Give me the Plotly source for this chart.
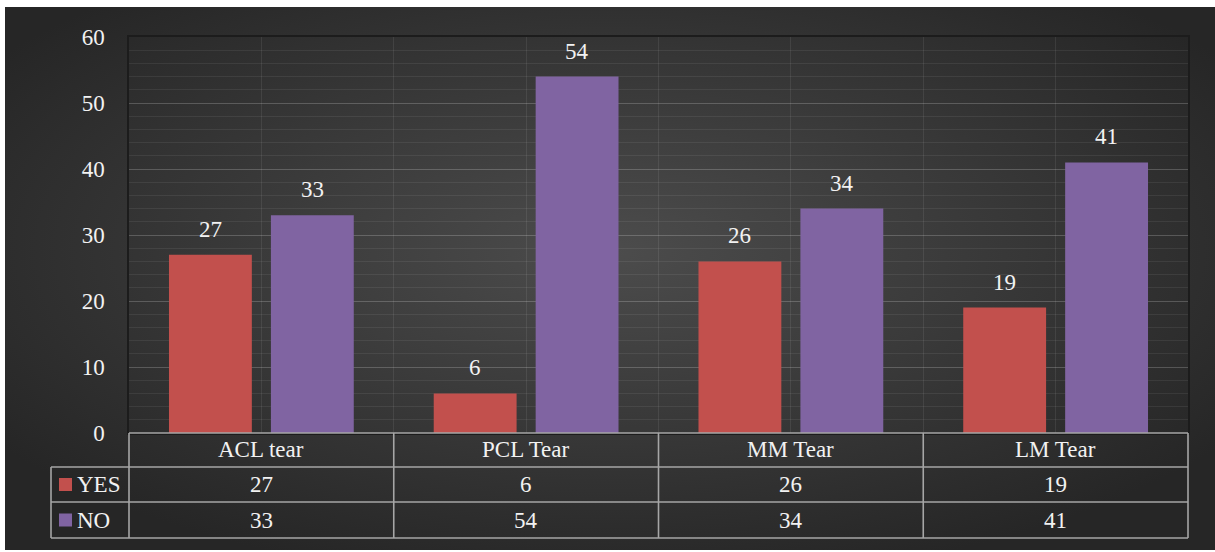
import base64
import plotly.graph_objects as go

categories = ["ACL tear", "PCL Tear", "MM Tear", "LM Tear"]
series_names = ["YES", "NO"]
yes_values = [27, 6, 26, 19]
no_values = [33, 54, 34, 41]
y_ticks = [0, 10, 20, 30, 40, 50, 60]

colors = {"YES": "#c2504d", "NO": "#8064a2"}
FONT = "Liberation Serif, Times New Roman, serif"
TXT = "#f2f2f2"
FS = 23

# figure geometry (pixels)
W, H = 1215, 552
L, R, T, B = 129, 1188, 37, 433
pw, ph = R - L, B - T

def px_x(x):
    return (x - L) / pw

def px_y(y):
    return (B - y) / ph

idx = list(range(len(categories)))
bar_w = 0.313
inner_gap = 0.036

fig = go.Figure()
for name, vals, off in [("YES", yes_values, -(bar_w + inner_gap)), ("NO", no_values, inner_gap)]:
    fig.add_trace(go.Bar(
        x=idx, y=vals, name=name, width=bar_w, offset=off,
        marker=dict(color=colors[name], line=dict(width=0)),
        showlegend=False,
    ))
    for i, v in zip(idx, vals):
        fig.add_annotation(x=i + off + bar_w / 2, y=v, xref="x", yref="y",
                           text=str(v), showarrow=False, xanchor="center", yanchor="bottom", yshift=11,
                           font=dict(family=FONT, size=FS, color=TXT))

# background radial gradient
svg = ('<svg xmlns="http://www.w3.org/2000/svg" width="1210" height="543" preserveAspectRatio="none">'
       '<defs><radialGradient id="g" cx="50%" cy="45%" r="62%">'
       '<stop offset="0" stop-color="#4c4c4c"/><stop offset="1" stop-color="#262626"/>'
       '</radialGradient></defs><rect width="100%" height="100%" fill="url(#g)"/></svg>')
src = "data:image/svg+xml;base64," + base64.b64encode(svg.encode()).decode()
x0, x1, y0, y1 = px_x(5), px_x(1215), px_y(7), px_y(550)
fig.add_layout_image(source=src, xref="paper", yref="paper", x=x0, y=y0,
                     sizex=x1 - x0, sizey=y0 - y1, sizing="stretch",
                     xanchor="left", yanchor="top", layer="below")

# data table
line = dict(color="#a6a6a6", width=1.6)
rows_y = [px_y(433), px_y(467), px_y(502), px_y(538)]
left_col = px_x(51)
n = len(categories)
fig.add_shape(type="line", xref="paper", yref="paper", x0=0, x1=1, y0=rows_y[0], y1=rows_y[0], line=line)
for ry in rows_y[1:]:
    fig.add_shape(type="line", xref="paper", yref="paper", x0=left_col, x1=1, y0=ry, y1=ry, line=line)
for k in range(n + 1):
    fig.add_shape(type="line", xref="paper", yref="paper", x0=k / n, x1=k / n,
                  y0=rows_y[0], y1=rows_y[3], line=line)
fig.add_shape(type="line", xref="paper", yref="paper", x0=left_col, x1=left_col,
              y0=rows_y[1], y1=rows_y[3], line=line)

def cell_text(x, y, text, xanchor="center"):
    fig.add_annotation(x=x, y=y, xref="paper", yref="paper", text=text, showarrow=False,
                       xanchor=xanchor, yanchor="middle",
                       font=dict(family=FONT, size=FS, color=TXT))

for k, c in enumerate(categories):
    cell_text((k + 0.5) / n, (rows_y[0] + rows_y[1]) / 2, c)
for r, (name, vals) in enumerate([("YES", yes_values), ("NO", no_values)]):
    cy = (rows_y[r + 1] + rows_y[r + 2]) / 2
    for k, v in enumerate(vals):
        cell_text((k + 0.5) / n, cy, str(v))
    sq = 6.5 / ph
    fig.add_shape(type="rect", xref="paper", yref="paper",
                  x0=px_x(59), x1=px_x(72), y0=cy - sq, y1=cy + sq,
                  fillcolor=colors[name], line=dict(width=0))
    cell_text(px_x(75), cy, name, xanchor="left")

fig.update_layout(
    width=W, height=H,
    margin=dict(l=L, r=W - R, t=T, b=H - B, pad=0),
    paper_bgcolor="white", plot_bgcolor="rgba(0,0,0,0)",
    barmode="group",
    font=dict(family=FONT, size=FS, color=TXT),
)
fig.update_xaxes(range=[-0.5, n - 0.5], tickmode="linear", tick0=-0.5, dtick=0.5,
                 showticklabels=False, showgrid=True, gridcolor="rgba(255,255,255,0.08)", gridwidth=1,
                 zeroline=False, showline=True, linecolor="#1c1c1c", linewidth=1.5, mirror=True,
                 fixedrange=True)
fig.update_yaxes(range=[0, 60], tickvals=y_ticks, ticktext=[str(t) for t in y_ticks],
                 showgrid=True, gridcolor="rgba(255,255,255,0.14)", gridwidth=1,
                 minor=dict(dtick=2, showgrid=True, gridcolor="rgba(255,255,255,0.07)", gridwidth=1),
                 zeroline=False, showline=True, linecolor="#1c1c1c", linewidth=1.5, mirror=True,
                 ticks="", ticklabelstandoff=18,
                 tickfont=dict(family=FONT, size=FS, color=TXT), fixedrange=True)

fig.write_html("out.html")
